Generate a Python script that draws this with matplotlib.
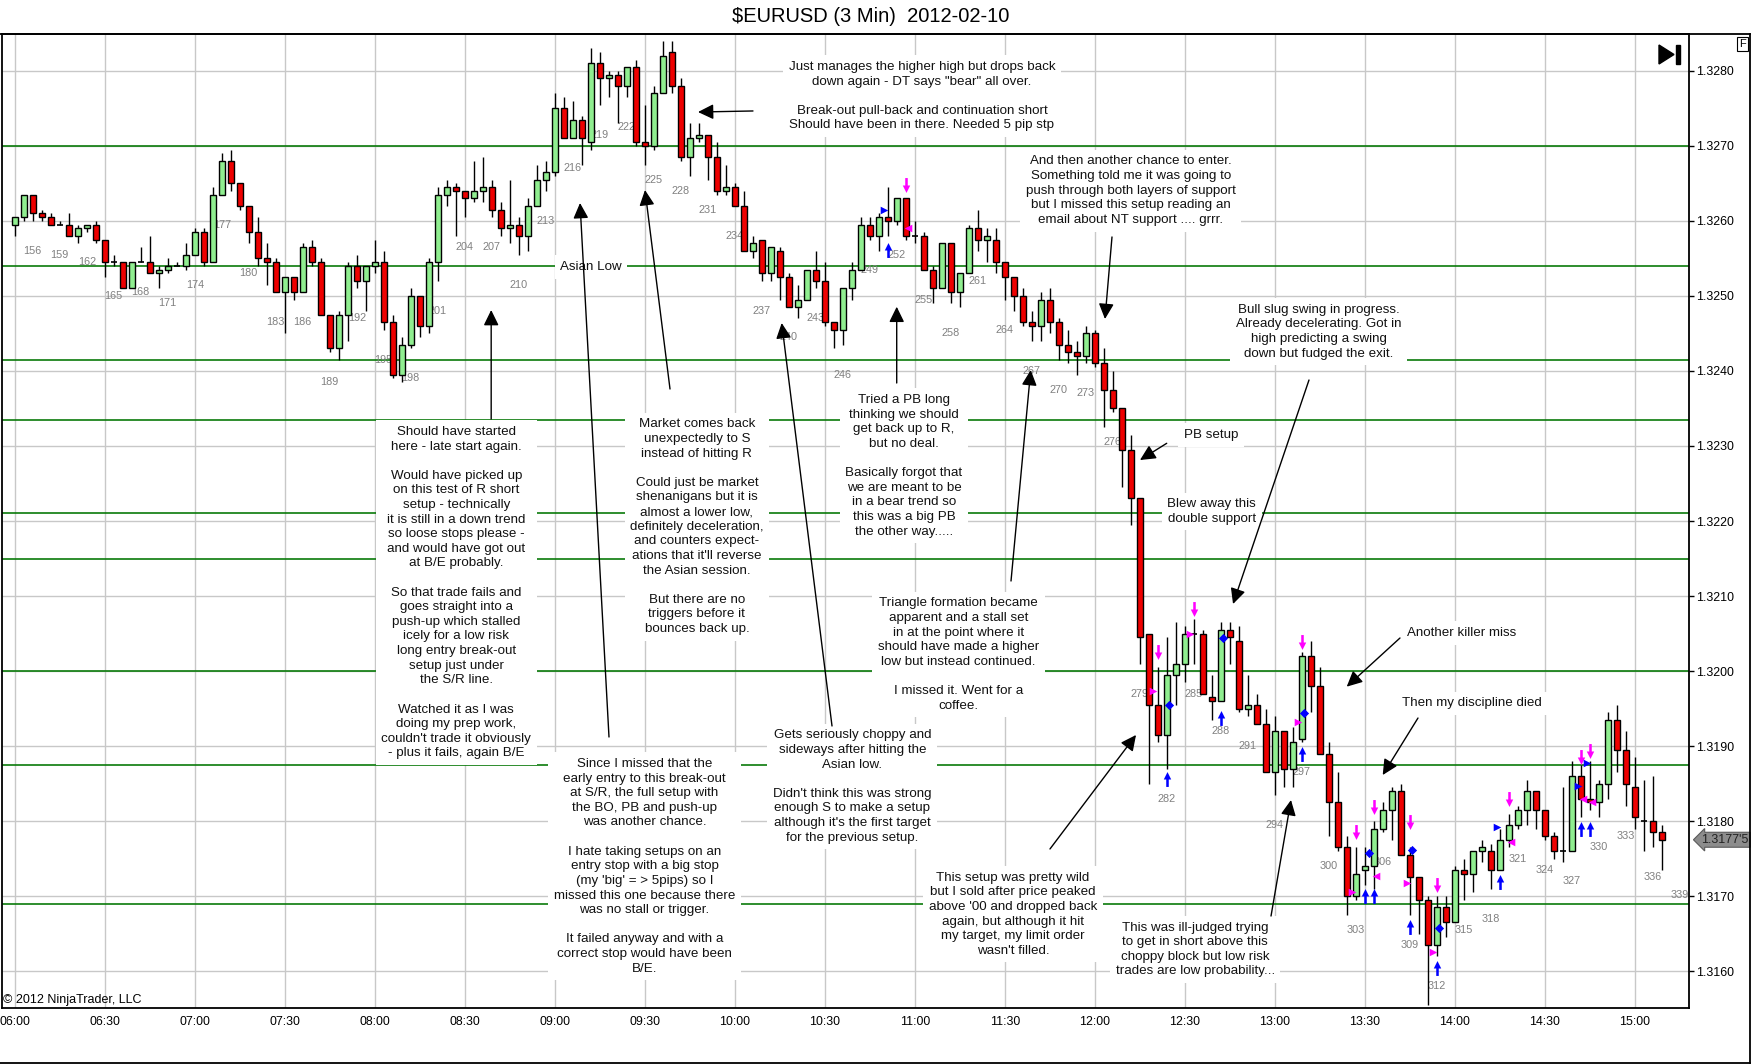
import numpy as np
import matplotlib
matplotlib.use("Agg")
import matplotlib.pyplot as plt
import matplotlib.transforms as mtransforms
from matplotlib.path import Path
from matplotlib.patches import Polygon, Rectangle
from matplotlib.lines import Line2D

plt.rcParams['font.family'] = ['Liberation Sans', 'DejaVu Sans']

# bar numbers start at 154 (06:00), one bar every 3 minutes
FIRST_BAR = 154
BASE = 1.3200  # all price values below are pips relative to 1.3200

open_pips = [
    59.5, 60.5, 63.5, 61, 60.5, 59.5, 59.5, 58, 59, 59.5,
    57.5, 54.5, 54.5, 51, 54.5, 54.5, 53, 53.5, 54, 54,
    55.5, 58.5, 54.5, 63.5, 68, 65, 62, 58.5, 55, 54.5,
    50.5, 52.5, 50.5, 56.5, 54.5, 47.5, 43, 47.5, 54, 52,
    54, 54.5, 46.5, 39.5, 43.5, 50, 46, 54.5, 63.5, 64.5,
    64, 63, 64, 64.5, 61.5, 59, 59.5, 58, 62, 65.5,
    66.5, 75, 71, 73.5, 70.5, 81, 79, 79.5, 78, 80.5,
    70.5, 70, 77, 82.5, 78, 68.5, 71, 71.5, 68.5, 64,
    64.5, 62, 56, 57.5, 53, 56, 52.5, 48.5, 49.5, 53.5,
    52, 46.5, 45.5, 51, 53.5, 59.5, 58, 60.5, 60, 63,
    58, 58, 53.5, 51, 57, 50.5, 53, 59, 57.5, 57.5,
    54.5, 52.5, 50, 46.5, 46, 49.5, 46.5, 43.5, 42.5, 42,
    45, 41, 37.5, 35, 29.5, 23, 5, -4.5, -8.5, -0.5,
    1, 5, 5, -3.5, -4, 5.5, 4, -5, -4.5, -7,
    -13.5, -8, -13, -9, 2, -2, -11, -17.5, -23.5, -30,
    -26.5, -26, -21, -18.5, -16, -24.5, -27.5, -30.5, -36.5, -31.5,
    -33.5, -26.5, -27, -24, -24, -26.5, -22.5, -20.5, -18.5, -16,
    -18.5, -22, -24, -24, -14, -17, -17.5, -15, -6.5, -10.5,
    -15.5, -20, -20, -21.5,
]
high_pips = [
    60.5, 63.5, 63.5, 61.5, 61, 60, 61, 59.5, 59.5, 60,
    57.5, 55.5, 54.5, 54.5, 56.5, 58, 54, 55, 54.5, 57,
    59, 59, 64.5, 69, 69.5, 65, 62, 60.5, 57, 55,
    52.5, 52.5, 57, 57.5, 55, 47.5, 48, 54.5, 55.5, 54,
    57.5, 56, 47.5, 44.5, 51, 50, 55, 64.5, 65.5, 65,
    64, 68, 68.5, 65.5, 62.5, 65.5, 60.5, 63, 67.5, 68,
    77, 76.5, 76, 74, 83, 82.5, 80, 80, 80.5, 81.5,
    75.5, 78, 84, 84, 79, 73, 73, 71.5, 70.5, 67.5,
    65, 64, 58, 57.5, 56.5, 56.5, 53, 51.5, 53.5, 56,
    54.5, 46.5, 51, 54.5, 60.5, 60.5, 61, 64.5, 63, 63,
    60, 58.5, 54, 57, 57, 53, 59.5, 61.5, 59, 59,
    54.5, 52.5, 51, 48, 50.5, 51, 47, 45.5, 44, 46,
    45.5, 43, 40, 35, 31.5, 23, 5, 0.5, 4.5, 6.5,
    6, 7, 5.5, -0.5, 6.5, 6.5, 6, -0.5, -3, -5,
    -6, -8, -7.5, 2.5, 4, 0.5, -9.5, -13.5, -22, -23.5,
    -23.5, -20, -17.5, -15.5, -15, -23.5, -27.5, -30, -30, -30,
    -26, -25, -24, -22.5, -23, -21, -19, -18, -14.5, -16,
    -18.5, -21.5, -15.5, -12, -12.5, -12, -14.5, -5.5, -4.5, -8,
    -11.5, -14.5, -14, -20.5,
]
low_pips = [
    58, 60, 60, 60, 59.5, 59.5, 58, 57, 58.5, 57,
    52.5, 54, 51, 51, 54.5, 53, 51, 53, 54, 53.5,
    55.5, 54, 54.5, 63.5, 64, 61.5, 57, 54, 51.5, 50.5,
    45, 49.5, 50.5, 54, 47.5, 42.5, 41.5, 44, 51, 48,
    53, 45.5, 39, 38.5, 43, 44.5, 45, 52, 62, 58,
    60.5, 62.5, 62.5, 60.5, 58, 57, 55.5, 56, 62, 64,
    66, 71, 71, 67.5, 69.5, 75.5, 76.5, 73, 76.5, 70,
    67.5, 69.5, 77, 77, 68, 66, 70.5, 65.5, 63.5, 63.5,
    62, 56, 55, 52, 52, 49.5, 48.5, 47, 49.5, 51,
    46, 43, 43.5, 49.5, 53.5, 57.5, 56, 58, 59.5, 57.5,
    57, 53.5, 49, 51, 49, 48.5, 53, 56, 54.5, 53,
    49.5, 48, 46, 44, 44, 45, 41.5, 41, 39.5, 41,
    40.5, 32.5, 34.5, 24.5, 19.5, 1, -15, -9.5, -13, -4.5,
    -1.5, 1, -3, -6.5, -4, 1, -5.5, -6, -7, -13.5,
    -16.5, -15.5, -15.5, -9.5, -5.5, -11, -22, -24, -32.5, -30.5,
    -28.5, -29, -21.5, -22.5, -24.5, -32.5, -35, -44.5, -38, -35.5,
    -33.5, -30.5, -29.5, -25.5, -29, -26.5, -23.5, -21, -20.5, -21,
    -22.5, -25, -25.5, -24, -19.5, -18.5, -19.5, -17, -13.5, -18,
    -21, -24, -23.5, -26.5,
]
close_pips = [
    60.5, 63.5, 61, 60.5, 59.5, 59.5, 58, 59, 59.5, 57.5,
    54.5, 54.5, 51, 54.5, 54.5, 53, 53.5, 54, 54, 55.5,
    58.5, 54.5, 63.5, 68, 65, 62, 58.5, 55, 54.5, 50.5,
    52.5, 50.5, 56.5, 54.5, 47.5, 43, 47.5, 54, 52, 54,
    54.5, 46.5, 39.5, 43.5, 50, 46, 54.5, 63.5, 64.5, 64,
    63, 64, 64.5, 61.5, 59, 59.5, 58, 62, 65.5, 66.5,
    75, 71, 73.5, 71, 81, 79, 79.5, 78, 80.5, 70.5,
    70, 77, 82, 78, 68.5, 71, 71.5, 68.5, 64, 64.5,
    62, 56, 57, 53, 56.5, 52.5, 48.5, 49.5, 53.5, 52,
    46.5, 45.5, 51, 53.5, 59.5, 58, 60.5, 60, 63, 58,
    58, 53.5, 51, 57, 50.5, 53, 59, 57.5, 58, 54.5,
    52.5, 50, 46.5, 46, 49.5, 46.5, 43.5, 42.5, 42, 45,
    41, 37.5, 35, 29.5, 23, 4.5, -4.5, -8.5, -0.5, 1,
    5, 5, -3, -4, 5.5, 4.5, -5, -4.5, -7, -13.5,
    -8, -13, -9.5, 2, -2, -11, -17.5, -23.5, -30, -27,
    -26, -21, -18.5, -16, -24.5, -27.5, -30.5, -36.5, -31.5, -33.5,
    -26.5, -27, -24, -23.5, -26.5, -22.5, -20.5, -18.5, -16, -18.5,
    -22, -24, -24, -14, -17, -17.5, -15, -6.5, -10.5, -15,
    -19.5, -20, -21.5, -22.5,
]

# strategy signal markers (bar position, pips)
sell_arrow_bars = [253, 281, 285, 297, 303, 305, 309, 312, 320, 328, 329]
sell_arrow_pips = [64.8, 2.5, 8.3, 3.9, -21.5, -18.1, -20.1, -28.5, -17, -11.5, -10.6]
buy_arrow_bars = [251, 282, 288, 297, 304, 305, 309, 312, 319, 328, 329]
buy_arrow_pips = [56.1, -14.4, -6.2, -11.1, -30, -30, -34.1, -39.6, -28.1, -21.1, -21.1]
blue_tri_bars = [250.6, 318.7, 327.7, 328.7]
blue_tri_pips = [61.5, -20.8, -15.3, -12.3]
pink_left_bars = [253.3, 305.3, 320.2, 328.3, 329.3]
pink_left_pips = [59.0, -27.3, -22.8, -17.0, -17.5]
pink_right_bars = [280.5, 284.6, 296.6, 302.6, 308.7, 311.6]
pink_right_pips = [-2.7, 5.0, -6.8, -29.4, -28.3, -37.4]
blue_diamond_bars = [282.3, 288.3, 297.3, 304.5, 309.3, 312.3]
blue_diamond_pips = [-4.5, 4.4, -5.6, -24.3, -23.9, -34.3]

# drawn support / resistance lines
sr_levels = [1.3270, 1.3254, 1.32415, 1.32335, 1.3221, 1.3215, 1.3200, 1.31875, 1.3169]

time_labels = ["06:00", "06:30", "07:00", "07:30", "08:00", "08:30", "09:00", "09:30",
               "10:00", "10:30", "11:00", "11:30", "12:00", "12:30", "13:00", "13:30",
               "14:00", "14:30", "15:00"]
price_ticks = [1.3160, 1.3170, 1.3180, 1.3190, 1.3200, 1.3210, 1.3220, 1.3230,
               1.3240, 1.3250, 1.3260, 1.3270, 1.3280]

# chart notes: (text, bar x, price y, horizontal alignment)
notes = [
    ("Just manages the higher high but drops back\ndown again - DT says \"bear\" all over.\n\n"
     "Break-out pull-back and continuation short\nShould have been in there. Needed 5 pip stp",
     254.8, 1.327664, "center"),
    ("And then another chance to enter.\nSomething told me it was going to\n"
     "push through both layers of support\nbut I missed this setup reading an\n"
     "email about NT support .... grrr.", 278.0, 1.326404, "center"),
    ("Bull slug swing in progress.\nAlready decelerating. Got in\nhigh predicting a swing\n"
     "down but fudged the exit.", 298.9, 1.324524, "center"),
    ("Tried a PB long\nthinking we should\nget back up to R,\nbut no deal.\n\n"
     "Basically forgot that\nwe are meant to be\nin a bear trend so\nthis was a big PB\n"
     "the other way.....", 252.8, 1.322736, "center"),
    ("PB setup", 286.9, 1.323147, "center"),
    ("Blew away this\ndouble support", 287.0, 1.322127, "center"),
    ("Market comes back\nunexpectedly to S\ninstead of hitting R\n\nCould just be market\n"
     "shenanigans but it is\nalmost a lower low,\ndefinitely deceleration,\n"
     "and counters expect-\nations that it'll reverse\nthe Asian session.\n\n"
     "But there are no\ntriggers before it\nbounces back up.", 229.8, 1.321924, "center"),
    ("Should have started\nhere - late start again.\n\nWould have picked up\n"
     "on this test of R short\nsetup - technically\nit is still in a down trend\n"
     "so loose stops please -\nand would have got out\nat B/E probably.\n\n"
     "So that trade fails and\ngoes straight into a\npush-up which stalled\n"
     "icely for a low risk\nlong entry break-out\nsetup just under\nthe S/R line.\n\n"
     "Watched it as I was\ndoing my prep work,\ncouldn't trade it obviously\n"
     "- plus it fails, again B/E", 203.07, 1.321045, "center"),
    ("Asian Low", 214.6, 1.325387, "left"),
    ("Since I missed that the\nearly entry to this break-out\nat S/R, the full setup with\n"
     "the BO, PB and push-up\nwas another chance.\n\nI hate taking setups on an\n"
     "entry stop with a big stop\n(my 'big' = > 5pips) so I\nmissed this one because there\n"
     "was no stall or trigger.\n\nIt failed anyway and with a\ncorrect stop would have been\nB/E.",
     223.98, 1.317396, "center"),
    ("Gets seriously choppy and\nsideways after hitting the\nAsian low.\n\n"
     "Didn't think this was strong\nenough S to make a setup\nalthough it's the first target\n"
     "for the previous setup.", 247.07, 1.318461, "center"),
    ("Triangle formation became\napparent and a stall set\nin at the point where it\n"
     "should have made a higher\nlow but instead continued.\n\nI missed it. Went for a\ncoffee.",
     258.86, 1.320219, "center"),
    ("This setup was pretty wild\nbut I sold after price peaked\nabove '00 and dropped back\n"
     "again, but although it hit\nmy target, my limit order\nwasn't filled.",
     264.93, 1.316756, "center"),
    ("This was ill-judged trying\nto get in short above this\nchoppy block but low risk\n"
     "trades are low probability...", 285.17, 1.316287, "center"),
    ("Another killer miss", 314.81, 1.320507, "center"),
    ("Then my discipline died", 315.89, 1.319569, "center"),
]

# note arrows: (tail bar, tail price, head bar, head price)
note_arrows = [
    (236.03, 1.327467, 229.92, 1.327453),
    (275.92, 1.325787, 275.14, 1.324693),
    (297.81, 1.323880, 289.37, 1.320893),
    (252.0, 1.323840, 252.0, 1.324857),
    (282.0, 1.323036, 279.03, 1.322813),
    (226.81, 1.323760, 224.03, 1.326413),
    (206.94, 1.323360, 206.94, 1.324813),
    (220.03, 1.319120, 216.81, 1.326240),
    (244.81, 1.319267, 239.22, 1.324640),
    (264.7, 1.321200, 266.89, 1.324013),
    (269.03, 1.317627, 278.59, 1.319147),
    (293.59, 1.316733, 295.81, 1.318280),
    (307.92, 1.320440, 302.0, 1.319791),
    (309.92, 1.319373, 306.0, 1.318613),
]

GREEN = '#90ee90'
RED = '#ee0000'
PINK = '#ff00ff'
BLUE = '#0000ff'
GRID = '#c8c8c8'
SR = '#0a7a0a'

W, H = 1752, 1064
fig = plt.figure(figsize=(W / 100, H / 100), dpi=100)
ax = fig.add_axes([1.5 / W, 1 - 1008 / H, (1688.7 - 1.5) / W, (1008 - 34) / H])

o = BASE + np.array(open_pips) / 1e4
h = BASE + np.array(high_pips) / 1e4
l = BASE + np.array(low_pips) / 1e4
c = BASE + np.array(close_pips) / 1e4
bars = np.arange(FIRST_BAR, FIRST_BAR + len(o))

ax.set_xlim(152.53, 340.0)
ax.set_ylim(1.3155067, 1.3284933)

# grid
tick_bars = [FIRST_BAR + 10 * i for i in range(len(time_labels))]
for tb in tick_bars:
    ax.axvline(tb, color=GRID, lw=1, zorder=0.5)
for pt in price_ticks:
    ax.axhline(pt, color=GRID, lw=1, zorder=0.5)
for lvl in sr_levels:
    ax.axhline(lvl, color=SR, lw=1.2, zorder=1)

# candles
up = c > o
dn = c < o
flat = c == o
ax.vlines(bars, l, h, color='black', lw=1, zorder=4)
ax.bar(bars[up], (c - o)[up], bottom=o[up], width=0.7, color=GREEN,
       edgecolor='black', linewidth=1, zorder=5)
ax.bar(bars[dn], (o - c)[dn], bottom=c[dn], width=0.7, color=RED,
       edgecolor='black', linewidth=1, zorder=5)
ax.hlines(o[flat], bars[flat] - 0.35, bars[flat] + 0.35, color='black', lw=1.2, zorder=5)

# bar numbers every third bar
for b, lo in zip(bars, l):
    if (b - 156) % 3 == 0:
        ax.annotate(str(b), (b, lo), xytext=(0, -30), textcoords='offset pixels',
                    ha='center', va='center', fontsize=7.8, color='#808080', zorder=3)
ax.text(339, 1.31701, "339", ha='center', va='center', fontsize=7.8, color='#808080', zorder=3)


def arrow_path(down):
    verts = [(-0.17, 1), (0.17, 1), (0.17, 0.0), (0.5, 0.0), (0, -1),
             (-0.5, 0.0), (-0.17, 0.0), (-0.17, 1)]
    if not down:
        verts = [(x, -y) for x, y in verts]
    codes = [Path.MOVETO] + [Path.LINETO] * 6 + [Path.CLOSEPOLY]
    return Path(verts, codes)


ax.scatter(sell_arrow_bars, BASE + np.array(sell_arrow_pips) / 1e4, marker=arrow_path(True),
           s=115, color=PINK, linewidths=0, zorder=6)
ax.scatter(buy_arrow_bars, BASE + np.array(buy_arrow_pips) / 1e4, marker=arrow_path(False),
           s=115, color=BLUE, linewidths=0, zorder=6)
ax.scatter(blue_tri_bars, BASE + np.array(blue_tri_pips) / 1e4, marker='>', s=30,
           color=BLUE, linewidths=0, zorder=6)
ax.scatter(pink_left_bars, BASE + np.array(pink_left_pips) / 1e4, marker='<', s=30,
           color=PINK, linewidths=0, zorder=6)
ax.scatter(pink_right_bars, BASE + np.array(pink_right_pips) / 1e4, marker='>', s=30,
           color=PINK, linewidths=0, zorder=6)
ax.scatter(blue_diamond_bars, BASE + np.array(blue_diamond_pips) / 1e4, marker='D', s=22,
           color=BLUE, linewidths=0, zorder=6)

# notes
for txt, x, y, ha in notes:
    ax.text(x, y, txt, ha=ha, va='center', multialignment='center', fontsize=9.6,
            linespacing=1.29, color='#111111', zorder=3,
            bbox=dict(facecolor='white', edgecolor='none', pad=4))
for xt, yt, xh, yh in note_arrows:
    ax.annotate('', xy=(xh, yh), xytext=(xt, yt), zorder=7,
                arrowprops=dict(arrowstyle='-|>,head_length=0.47,head_width=0.23',
                                mutation_scale=20, lw=1, color='black',
                                shrinkA=0, shrinkB=0))

# axes styling
ax.set_xticks(tick_bars)
ax.set_xticklabels(time_labels)
ax.yaxis.tick_right()
ax.set_yticks(price_ticks)
ax.set_yticklabels([f"{p:.4f}" for p in price_ticks])
ax.tick_params(axis='y', direction='out', length=3.6, width=1, pad=2, labelsize=8.9)
ax.tick_params(axis='x', length=0, pad=6, labelsize=8.9)
for sp in ax.spines.values():
    sp.set_color('black')
    sp.set_linewidth(1.3)

# last price marker
blend = mtransforms.blended_transform_factory(ax.transAxes, ax.transData)
ax.text(1.0075, c[-1], "1.3177'5", transform=blend, ha='left', va='center', fontsize=8.9,
        color='#222222', clip_on=False, zorder=8,
        bbox=dict(boxstyle='larrow,pad=0.12', facecolor='#8c8c8c', edgecolor='#5a5a5a', lw=0.8))

# frame around the whole chart window
for xs, ys in [((0, 1750), (34, 34)), ((1750, 1750), (34, 1063)), ((0, 1750), (1063, 1063))]:
    fig.add_artist(Line2D([xs[0] / W, xs[1] / W], [1 - ys[0] / H, 1 - ys[1] / H],
                          transform=fig.transFigure, color='black', lw=1.3))

# play-to-end icon and F button
fig.add_artist(Polygon([(1659 / W, 1 - 45 / H), (1659 / W, 1 - 64 / H), (1674 / W, 1 - 54.5 / H)],
                       closed=True, transform=fig.transFigure, color='black'))
fig.add_artist(Rectangle((1676 / W, 1 - 64 / H), 3.5 / W, 19 / H,
                         transform=fig.transFigure, color='black'))
fig.text(1742.5 / W, 1 - 44 / H, "F", ha='center', va='center', fontsize=8,
         bbox=dict(boxstyle='square,pad=0.15', facecolor='white', edgecolor='black', lw=0.8))

fig.text(871 / W, 1 - 16 / H, "$EURUSD (3 Min)  2012-02-10", ha='center', va='center',
         fontsize=14.5)
fig.text(3 / W, 1 - 1000 / H, "\u00a9 2012 NinjaTrader, LLC", ha='left', va='center', fontsize=9)

fig.savefig("out.png", dpi=100, facecolor='white')
